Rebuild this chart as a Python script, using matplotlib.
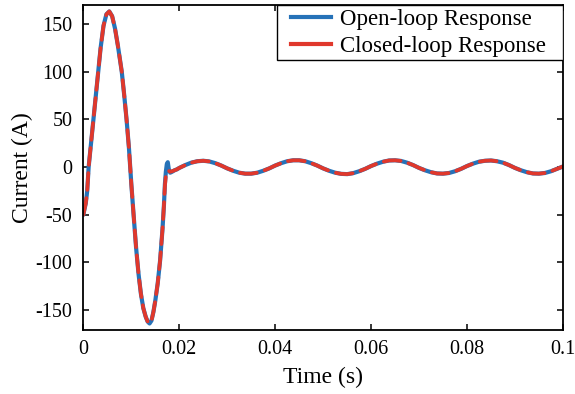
import numpy as np
import matplotlib
matplotlib.use('Agg')
import matplotlib.pyplot as plt
from matplotlib.lines import Line2D
from matplotlib.patches import Rectangle

# start-up transient, 0 - 20 ms
t_transient = [0.0000, 0.0002, 0.0005, 0.0008, 0.0011, 0.0016, 0.0021, 0.0026,
               0.0031, 0.0036, 0.0042, 0.0048, 0.0054, 0.0060, 0.0066, 0.0072,
               0.0080, 0.0085, 0.0090, 0.0095, 0.0100, 0.0105, 0.0110, 0.0115,
               0.0120, 0.0125, 0.0130, 0.0134, 0.0138, 0.0142, 0.0146, 0.0150,
               0.0155, 0.0160, 0.0165, 0.0168, 0.0170, 0.0172, 0.0174, 0.0176,
               0.0178, 0.0181, 0.0185, 0.0190, 0.0195]
open_transient = [-50, -45, -38, -25, 0, 25, 50, 75,
                  100, 125, 148, 160, 163, 158, 145, 127,
                  100, 76, 50, 20, -18, -52, -85, -112,
                  -133, -148, -157, -162, -164, -161, -152, -140,
                  -122, -98, -65, -40, -18, -5, 3, 5,
                  -2, -6, -5, -3.5, -2.5]
closed_transient = [-50, -45, -38, -25, 0, 25, 50, 75,
                    100, 125, 148, 160, 163, 158, 145, 127,
                    100, 76, 50, 20, -18, -52, -85, -112,
                    -133, -148, -157, -162, -164, -161, -152, -140,
                    -122, -98, -65, -40, -20, -9, -5, -4,
                    -4, -5, -4.5, -3.5, -2.5]

# steady-state ripple, 20 - 100 ms (both responses overlap)
t_steady = [0.02 + 0.00125 * k for k in range(65)]
i_steady = [-1, 2, 4.5, 6, 6.5, 5.8, 4, 1.5,
            -1.5, -4, -6, -7, -7, -6, -4, -1.5,
            1.5, 4, 6, 7, 7, 6, 4, 1.5,
            -1.5, -4, -6, -7.2, -7.5, -6.5, -4.5, -2,
            1, 3.5, 5.5, 6.8, 7, 6.3, 4.5, 2,
            -1, -3.5, -5.5, -6.8, -7, -6.3, -4.5, -2,
            1, 3.5, 5.5, 6.5, 6.8, 6, 4.5, 2,
            -1, -3.5, -5.5, -6.8, -7, -6.3, -4.5, -2,
            0.5]

t = np.array(t_transient + t_steady)
i_open = np.array(open_transient + i_steady)
i_closed = np.array(closed_transient + i_steady)

blue = '#2672b8'
red = '#e0382c'

plt.rcParams['font.family'] = ['Liberation Serif', 'DejaVu Serif']

fig = plt.figure(figsize=(5.75, 3.94), dpi=100, facecolor='w')
ax = fig.add_axes([0.145, 0.162, 0.834, 0.826])

ax.plot(t, i_open, color=blue, lw=3.0, solid_capstyle='round')
ax.plot(t, i_closed, color=red, lw=2.7, dashes=(4.5, 2.2),
        dash_capstyle='round')

ax.set_xlim(0, 0.1)
ax.set_ylim(-171, 170)
ax.set_xticks([0, 0.02, 0.04, 0.06, 0.08, 0.1])
ax.set_xticklabels(['0', '0.02', '0.04', '0.06', '0.08', '0.1'])
ax.set_yticks([-150, -100, -50, 0, 50, 100, 150])
ax.set_yticklabels(['-150', '-100', '-50', '0', '50', '100', '150'])
ax.tick_params(direction='in', top=True, right=True, length=4, width=1.1,
               labelsize=14.5)
ax.tick_params(axis='y', pad=8)
ax.tick_params(axis='x', pad=7)
for s in ax.spines.values():
    s.set_linewidth(1.3)

ax.set_xlabel('Time (s)', fontsize=17, labelpad=6)
ax.set_ylabel('Current (A)', fontsize=17, labelpad=2)

# legend box (MATLAB style: wide side padding, tight top/bottom)
ax.add_patch(Rectangle((0.4035, 0.831), 0.5965, 0.169, transform=ax.transAxes,
                       facecolor='w', edgecolor='k', lw=1.0, zorder=4))
handles = [Line2D([], [], color=blue, lw=3.0),
           Line2D([], [], color=red, lw=3.0)]
leg = ax.legend(handles, ['Open-loop Response', 'Closed-loop Response'],
                loc='upper left', bbox_to_anchor=(0.4327, 0.987),
                borderaxespad=0, borderpad=0, frameon=False,
                fontsize=16.5, handlelength=1.75, handletextpad=0.4,
                labelspacing=0.26)
leg.set_zorder(5)

fig.savefig('out.png', dpi=100)
